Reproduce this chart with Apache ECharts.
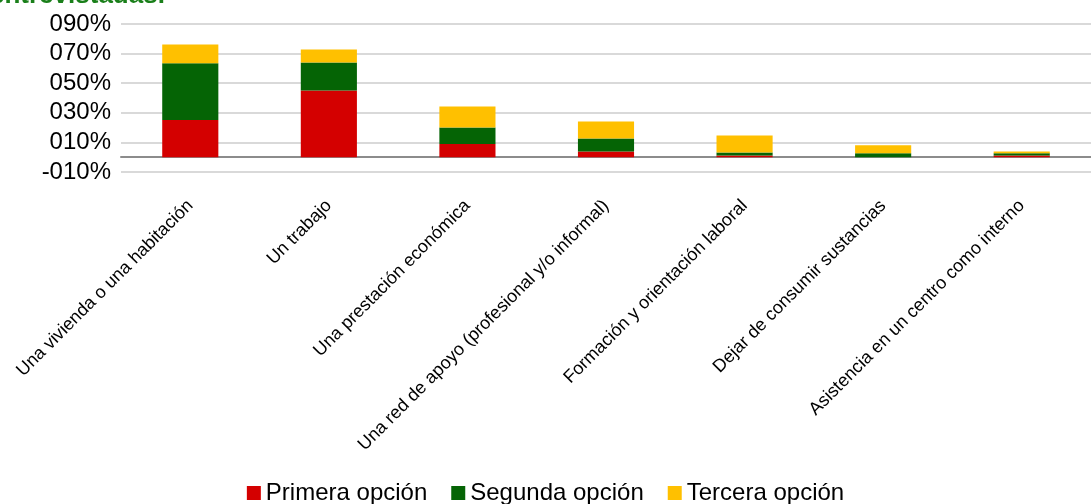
<!DOCTYPE html>
<html>
<head>
<meta charset="utf-8">
<script src="https://cdn.jsdelivr.net/npm/echarts@6/dist/echarts.min.js"></script>
<style>
    html, body { margin: 0; padding: 0; background: #fff; }
    #chart { width: 1091px; height: 504px; }
</style>
</head>
<body>
<div id="chart"></div>
<script>
let categories = [
    'Una vivienda o una habitación',
    'Un trabajo',
    'Una prestación económica',
    'Una red de apoyo (profesional y/o informal)',
    'Formación y orientación laboral',
    'Dejar de consumir sustancias',
    'Asistencia en un centro como interno'
];
let primera = [25.1, 45.1, 8.9, 3.9, 1.2, 0, 1.2];
let segunda = [38.3, 18.9, 11.2, 8.8, 2.0, 2.6, 1.4];
let tercera = [12.8, 8.8, 14.2, 11.5, 11.5, 5.4, 1.3];

let fontFamily = '"Liberation Sans", Arial, sans-serif';

function pctLabel(v) {
    let s = String(Math.abs(v));
    while (s.length < 3) s = '0' + s;
    return (v < 0 ? '-' : '') + s + '%';
}

function makeSeries(name, color, data) {
    return {
        name: name,
        type: 'bar',
        stack: 'total',
        barWidth: '40.5%',
        color: color,
        data: data
    };
}

let chart = echarts.init(document.getElementById('chart'));
chart.setOption({
    animation: false,
    textStyle: { fontFamily: fontFamily },
    title: {
        text: 'entrevistadas.',
        left: -15,
        top: -22,
        textStyle: { color: '#1a7f1a', fontSize: 26, fontWeight: 'bold', fontFamily: fontFamily }
    },
    grid: { left: 121, top: 24, width: 984, height: 148 },
    legend: {
        top: 476,
        left: 'center',
        itemWidth: 14,
        itemHeight: 14,
        itemGap: 24,
        icon: 'rect',
        textStyle: { fontSize: 24, color: '#000', fontFamily: fontFamily }
    },
    xAxis: {
        type: 'category',
        data: categories,
        axisTick: { show: false },
        axisLine: { onZero: true, lineStyle: { color: '#8c8c8c', width: 2 } },
        axisLabel: {
            rotate: 45,
            interval: 0,
            margin: 31,
            fontSize: 18,
            color: '#000',
            fontFamily: fontFamily
        }
    },
    yAxis: {
        type: 'value',
        min: -10,
        max: 90,
        interval: 20,
        axisLine: { show: false },
        axisTick: { show: false },
        splitLine: { lineStyle: { color: '#d9d9d9', width: 2 } },
        axisLabel: {
            formatter: pctLabel,
            fontSize: 24,
            color: '#000',
            margin: 10,
            fontFamily: fontFamily
        }
    },
    series: [
        makeSeries('Primera opción', '#d40000', primera),
        makeSeries('Segunda opción', '#056405', segunda),
        makeSeries('Tercera opción', '#ffc000', tercera)
    ]
});
</script>
</body>
</html>
